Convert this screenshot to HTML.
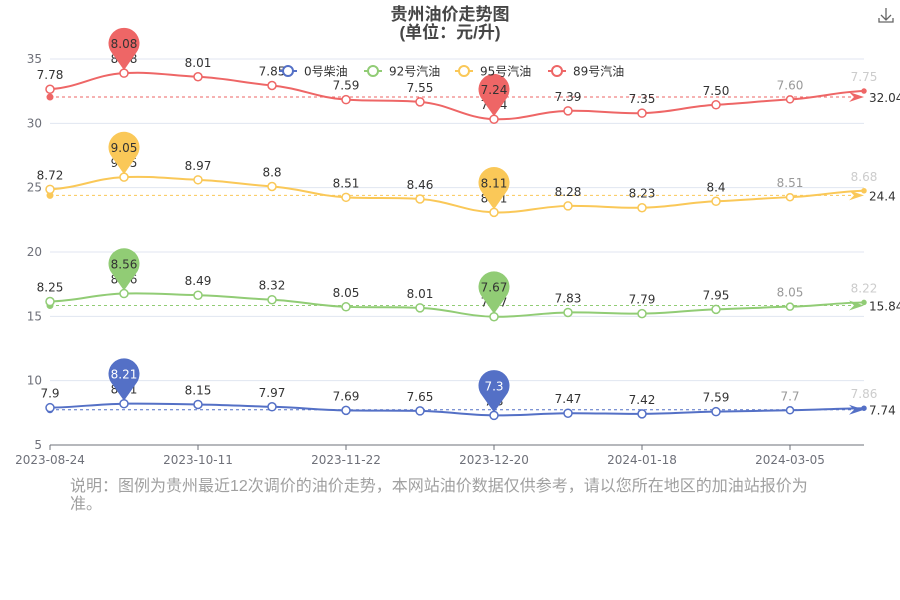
<!DOCTYPE html>
<html><head><meta charset="utf-8"><style>
body{margin:0;background:#fff;}
svg{display:block;font-family:"DejaVu Sans","Noto Sans CJK SC",sans-serif;}
.note{position:absolute;left:70px;top:478px;width:750px;font-size:16px;line-height:18px;color:#a0a0a0;font-family:"Liberation Sans","Noto Sans CJK SC",sans-serif;}
</style></head><body>
<div style="position:relative;width:900px;height:600px;overflow:hidden">
<svg id="chart" width="900" height="600">
<text x="450" y="20" text-anchor="middle" font-size="17" font-weight="bold" fill="#464646" font-family="Liberation Sans, Noto Sans CJK SC, sans-serif">贵州油价走势图</text>
<text x="450" y="38" text-anchor="middle" font-size="17" font-weight="bold" fill="#464646" font-family="Liberation Sans, Noto Sans CJK SC, sans-serif">(单位：元/升)</text>
<g stroke="#666" fill="none" stroke-width="1.3"><path d="M886 8v12M881 15l5 5 5-5M879 18v4h14v-4"/></g>
<g id="grid"></g><g id="series"></g><g id="legend"></g>
</svg>
<div class="note">说明：图例为贵州最近12次调价的油价走势，本网站油价数据仅供参考，请以您所在地区的加油站报价为准。</div>
</div>
<script>
const categories=["2023-08-24","","2023-10-11","","2023-11-22","","2023-12-20","","2024-01-18","","2024-03-05",""];
const seriesNames=["0号柴油","92号汽油","95号汽油","89号汽油"];
const diesel0=[7.9,8.21,8.15,7.97,7.69,7.65,7.3,7.47,7.42,7.59,7.7,7.86];
const gas92=[8.25,8.56,8.49,8.32,8.05,8.01,7.67,7.83,7.79,7.95,8.05,8.22];
const gas95=[8.72,9.05,8.97,8.8,8.51,8.46,8.11,8.28,8.23,8.4,8.51,8.68];
const gas89=[7.78,8.08,8.01,7.85,7.59,7.55,7.24,7.39,7.35,7.50,7.60,7.75];
const labels89=["7.78","8.08","8.01","7.85","7.59","7.55","7.24","7.39","7.35","7.50","7.60","7.75"];
const yTicks=[5,10,15,20,25,30,35];
const colors=["#5470c6","#91cc75","#fac858","#ee6666"];
const pinText=["#fff","#333","#333","#333"];
const NS="http://www.w3.org/2000/svg";
const X0=50,X1=864,Y0=445,Y1=59,YMIN=5,YMAX=35;
const xs=i=>X0+i*(X1-X0)/(categories.length-1);
const ys=v=>Y0-(v-YMIN)/(YMAX-YMIN)*(Y0-Y1);
function mk(tag,attrs,parent,txt){const e=document.createElementNS(NS,tag);for(const k in attrs)e.setAttribute(k,attrs[k]);if(txt!==undefined)e.textContent=txt;parent.appendChild(e);return e;}
const grid=document.getElementById('grid');
yTicks.forEach(t=>{
 if(t!==YMIN){const l=mk('line',{x1:X0,x2:X1,y1:ys(t),y2:ys(t),stroke:'#e0e6f1'},grid);
 
 }
 const tx=mk('text',{x:42,y:ys(t)+4,'text-anchor':'end','font-size':12,fill:'#6e7079'},grid,String(t));
 
 
});
const ax=mk('line',{x1:X0,x2:X1,y1:Y0,y2:Y0,stroke:'#6e7079'},grid);


categories.forEach((c,i)=>{
 if(!c)return;
 mk('line',{x1:xs(i),x2:xs(i),y1:Y0,y2:Y0+5,stroke:'#6e7079'},grid);
 const t=mk('text',{x:xs(i),y:Y0+19,'text-anchor':'middle','font-size':12,fill:'#6e7079'},grid,c);
 
 
});
const raw=[diesel0,gas92,gas95,gas89];
const lbl=[diesel0.map(String),gas92.map(String),gas95.map(String),labels89];
const stacked=[];
raw.forEach((s,k)=>stacked.push(s.map((v,i)=>v+(k?stacked[k-1][i]:0))));
const sg=document.getElementById('series');
function pathD(pts){
 let d=`M${pts[0][0]},${pts[0][1]}`;
 for(let i=0;i<pts.length-1;i++){
  const p0=pts[Math.max(0,i-1)],p1=pts[i],p2=pts[i+1],p3=pts[Math.min(pts.length-1,i+2)];
  const s=0.12;
  let c1y=p1[1]+(p2[1]-p0[1])*s,c2y=p2[1]-(p3[1]-p1[1])*s;
  const dx=(p2[0]-p1[0]);
  d+=` C${p1[0]+dx*0.4},${c1y} ${p2[0]-dx*0.4},${c2y} ${p2[0]},${p2[1]}`;
 }
 return d;
}
function pin(g,x,y,col,txt,tc){
 const cy=y-29;
 const p=mk('path',{d:`M${x},${y-3} L${x-12},${cy+9} A15.5,15.5 0 1,1 ${x+12},${cy+9} Z`,fill:col},g);
 
 
 mk('text',{x:x,y:cy+4,'text-anchor':'middle','font-size':12,fill:tc},g,txt);
}
stacked.forEach((s,k)=>{
 const col=colors[k];
 const g=mk('g',{},sg);
 
 
 const pts=s.map((v,i)=>[xs(i),ys(v)]);
 const avg=s.reduce((a,b)=>a+b,0)/s.length;
 const ay=ys(avg);
 const ml=mk('line',{x1:X0,x2:X1-4,y1:ay,y2:ay,stroke:col,'stroke-dasharray':'3,3'},g);
 
 
 mk('circle',{cx:X0,cy:ay,r:3.5,fill:col},g);
 mk('path',{d:`M${X1},${ay} L${X1-15},${ay-5} L${X1-10},${ay} L${X1-15},${ay+5}Z`,fill:col},g);
 mk('text',{x:X1+5,y:ay+5,'font-size':12,fill:'#333'},g,(Math.round(avg*100)/100).toString());
 const line=mk('path',{d:pathD(pts),fill:'none',stroke:col,'stroke-width':2},g);
 
 
 pts.forEach((p,i)=>{
  const r=i===11?2:(i===10?3.5:4);
  const c=mk('circle',{cx:p[0],cy:p[1],r:r,fill:i===11?col:'#fff',stroke:col,'stroke-width':1.5},g);
  
  
  const fc=i===11?'#ccc':(i===10?'#999':'#333');
  mk('text',{x:p[0],y:p[1]-10,'text-anchor':'middle','font-size':12,fill:fc},g,lbl[k][i]);
 });
 const vals=raw[k];
 const mx=vals.indexOf(Math.max(...vals)),mn=vals.indexOf(Math.min(...vals));
 pin(g,pts[mx][0],pts[mx][1],col,lbl[k][mx],pinText[k]);
 pin(g,pts[mn][0],pts[mn][1],col,lbl[k][mn],pinText[k]);
});
const lg=document.getElementById('legend');
const lx=[279,364,455,548];
seriesNames.forEach((n,k)=>{
 const g=mk('g',{},lg);
 
 
 mk('line',{x1:lx[k],x2:lx[k]+18,y1:71,y2:71,stroke:colors[k],'stroke-width':2},g);
 mk('circle',{cx:lx[k]+9,cy:71,r:5,fill:'#fff',stroke:colors[k],'stroke-width':2},g);
 mk('text',{x:lx[k]+25,y:75.5,'font-size':12,fill:'#333'},g,n);
});
</script>
</body></html>
